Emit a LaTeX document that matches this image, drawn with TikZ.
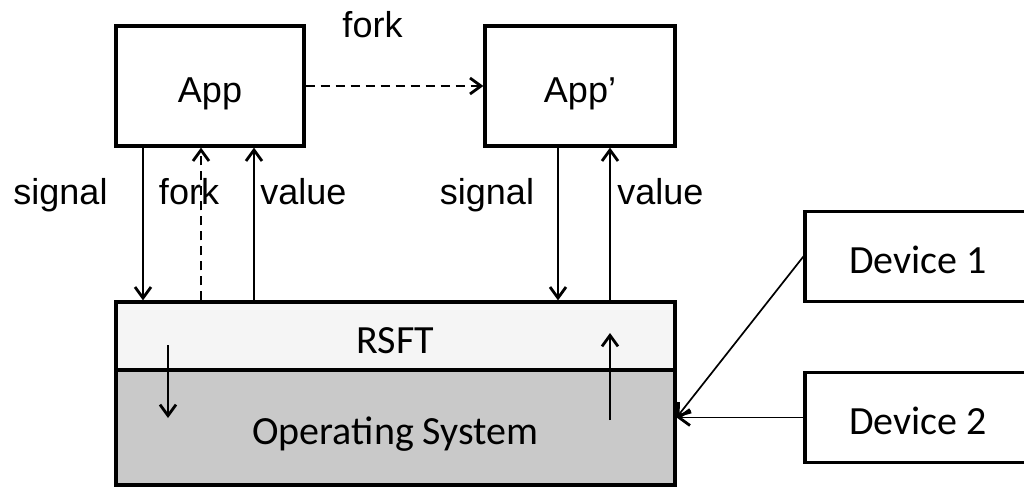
\documentclass[tikz,border=0pt]{standalone}
\usepackage{fontspec}
\setmainfont{Liberation Sans}
\newfontfamily\calibri{Carlito}
\usetikzlibrary{arrows.meta}

\begin{document}
\begin{tikzpicture}[x=0.5pt, y=-0.5pt,
		box/.style={draw, line width=1.6pt, minimum height=60pt, font=\fontsize{18}{20}\selectfont, text height=16pt, text depth=0pt},
		layer/.style={draw, line width=1.6pt, minimum width=279.5pt, inner sep=0pt, font=\calibri\fontsize{20}{24}\selectfont, text height=17pt, text depth=0pt},
		device/.style={draw, line width=1.6pt, minimum width=113pt, minimum height=45pt, font=\calibri\fontsize{20}{24}\selectfont, text height=17pt, text depth=0pt},
		lbl/.style={inner sep=0pt, font=\fontsize{18}{20}\selectfont},
		sig/.style={line width=0.85pt, -{Straight Barb[length=5.5pt, width=8pt, line width=1.4pt]}},
		fk/.style={sig, dash pattern=on 4.5pt off 3pt}]
			\clip (0,0) rectangle (1024,487);

			\node[box, minimum width=94pt] (app)   at (210, 86)  {App};
			\node[box, minimum width=95pt] (app2)  at (580, 86)  {App’};
			\node[layer, fill=black!4, minimum height=34pt] (rsft) at (395.5, 336) {RSFT};
			\node[layer, fill=black!21, minimum height=57.5pt] (os) at (395.5, 427.5) {Operating System};
			\node[device] (dev1) at (918, 256.5) {Device 1};
			\node[device] (dev2) at (918, 417.5) {Device 2};

			\node[lbl, anchor=base] (forktop) at (372.5, 37) {fork};
			\node[lbl, anchor=base] (sig1) at (60.5, 204) {signal};
			\node[lbl, anchor=base] (fork1) at (189, 204) {fork};
			\node[lbl, anchor=base west] (val1) at (260, 204) {value};
			\node[lbl, anchor=base] (sig2) at (487, 204) {signal};
			\node[lbl, anchor=base west] (val2) at (617, 204) {value};

			\coordinate (c1) at (143, 0);
			\coordinate (c2) at (201, 0);
			\coordinate (c3) at (254, 0);
			\coordinate (c4) at (558, 0);
			\coordinate (c5) at (610, 0);
			\coordinate (dn1) at (168, 345);
			\coordinate (dn2) at (168, 418);
			\coordinate (up1) at (610, 420);
			\coordinate (up2) at (610, 333);

			\draw[fk] (app.east) -- (app2.west);
			\draw[sig] (c1 |- app.south) -- (c1 |- rsft.north);
			\draw[fk] (c2 |- rsft.north) -- (c2 |- app.south);
			\draw[sig] (c3 |- rsft.north) -- (c3 |- app.south);
			\draw[sig] (c4 |- app2.south) -- (c4 |- rsft.north);
			\draw[sig] (c5 |- rsft.north) -- (c5 |- app2.south);
			\draw[sig] (dn1) -- (dn2);
			\draw[sig] (up1) -- (up2);
			\draw[sig] (dev1.west) -- (os.east |- dev2.west);
			\draw[sig] (dev2.west) -- (os.east |- dev2.west);
		\end{tikzpicture}
\end{document}
